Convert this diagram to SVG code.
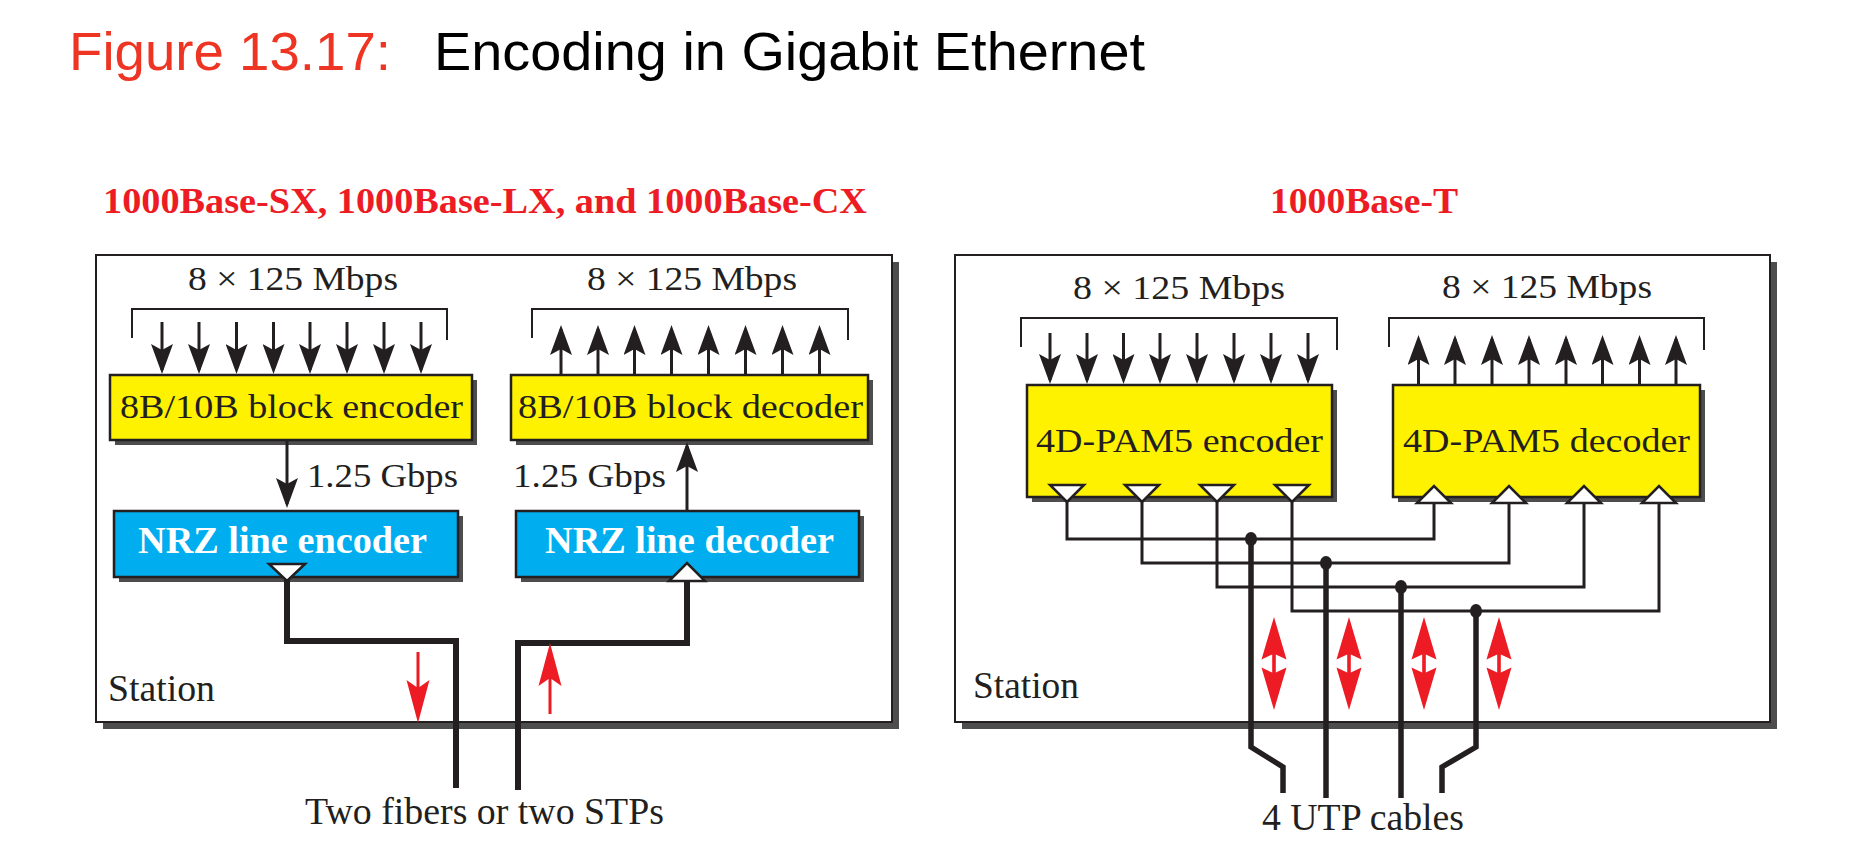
<svg xmlns="http://www.w3.org/2000/svg" width="1862" height="852" viewBox="0 0 1862 852">
<defs>
<style>
.title{font-family:"Liberation Sans",Arial,sans-serif;font-size:54px}
.serif{font-family:"Liberation Serif","Times New Roman",serif;fill:#231F20}
.lbl{font-size:34px}
.big{font-size:37px}
.hd{font-size:35px;font-weight:bold;fill:#ED1C24}
.nrz{font-size:37px;font-weight:bold;fill:#fff}
.frame{fill:#fff;stroke:#231F20;stroke-width:2}
.shadow{fill:#4D4D4D}
.yel{fill:#FFF200;stroke:#231F20;stroke-width:2.5}
.blu{fill:#00AEEF;stroke:#231F20;stroke-width:2.5}
.tri{fill:#fff;stroke:#231F20;stroke-width:2.5;stroke-linejoin:miter}
.br{fill:none;stroke:#231F20;stroke-width:2}
.ar{stroke:#231F20;stroke-width:3;marker-end:url(#ah)}
.wire{fill:none;stroke:#231F20;stroke-width:3}
.cable{fill:none;stroke:#231F20;stroke-width:6;stroke-linejoin:miter}
.red{fill:#ED1C24}
.dot{fill:#231F20}
</style>
<marker id="ah" markerUnits="userSpaceOnUse" markerWidth="30" markerHeight="22" refX="26" refY="11" orient="auto"><path d="M0,0 L30,11 L0,22 L6,11 Z" fill="#231F20"/></marker>
<path id="rdbl" d="M0,-46.5 L12.5,-4 L1.8,-9 L1.8,9 L12.5,4 L0,46.5 L-12.5,4 L-1.8,9 L-1.8,-9 L-12.5,-4 Z"/>
</defs>
<rect width="1862" height="852" fill="#fff"/>

<g id="title">
<text x="69" y="70" class="title" fill="#EE3524" textLength="322" lengthAdjust="spacingAndGlyphs">Figure 13.17:</text>
<text x="434" y="70" class="title" fill="#000" textLength="711" lengthAdjust="spacingAndGlyphs">Encoding in Gigabit Ethernet</text>
</g>

<g id="panel-left">
<text x="103" y="213" class="serif hd" textLength="764" lengthAdjust="spacingAndGlyphs">1000Base-SX, 1000Base-LX, and 1000Base-CX</text>
<rect x="103" y="262" width="796" height="467" class="shadow"/>
<rect x="96" y="255" width="796" height="467" class="frame"/>
<text x="108" y="701" class="serif big" textLength="107" lengthAdjust="spacingAndGlyphs">Station</text>
</g>

<g id="panel-right">
<text x="1270" y="213" class="serif hd" textLength="188" lengthAdjust="spacingAndGlyphs">1000Base-T</text>
<rect x="962" y="262" width="815" height="467" class="shadow"/>
<rect x="955" y="255" width="815" height="467" class="frame"/>
<text x="973" y="698" class="serif big" textLength="106" lengthAdjust="spacingAndGlyphs">Station</text>
</g>

<g id="enc8b10b">
<rect x="115" y="380" width="362" height="65" class="shadow"/>
<rect x="110" y="375" width="362" height="65" class="yel"/>
<text x="120" y="418" class="serif lbl" textLength="343" lengthAdjust="spacingAndGlyphs">8B/10B block encoder</text>
</g>

<g id="dec8b10b">
<rect x="516" y="380" width="357" height="65" class="shadow"/>
<rect x="511" y="375" width="357" height="65" class="yel"/>
<text x="518" y="418" class="serif lbl" textLength="345" lengthAdjust="spacingAndGlyphs">8B/10B block decoder</text>
</g>

<g id="nrzEnc">
<rect x="119" y="516" width="344" height="66" class="shadow"/>
<rect x="114" y="511" width="344" height="66" class="blu"/>
<text x="138" y="553" class="serif nrz" textLength="289" lengthAdjust="spacingAndGlyphs">NRZ line encoder</text>
</g>

<g id="nrzDec">
<rect x="521" y="516" width="343" height="66" class="shadow"/>
<rect x="516" y="511" width="343" height="66" class="blu"/>
<text x="545" y="553" class="serif nrz" textLength="289" lengthAdjust="spacingAndGlyphs">NRZ line decoder</text>
</g>

<g id="pam5Enc">
<rect x="1032" y="390" width="305" height="112" class="shadow"/>
<rect x="1027" y="385" width="305" height="112" class="yel"/>
<text x="1036" y="452" class="serif lbl" textLength="287" lengthAdjust="spacingAndGlyphs">4D-PAM5 encoder</text>
</g>

<g id="pam5Dec">
<rect x="1398" y="390" width="307" height="112" class="shadow"/>
<rect x="1393" y="385" width="307" height="112" class="yel"/>
<text x="1403" y="452" class="serif lbl" textLength="287" lengthAdjust="spacingAndGlyphs">4D-PAM5 decoder</text>
</g>

<g id="connectors">
<path class="br" d="M132,338 V309 H447 V340"/>
<path class="br" d="M532,338 V309 H848 V340"/>
<path class="br" d="M1021,347 V318 H1337 V350"/>
<path class="br" d="M1389,347 V318 H1704 V350"/>
<line class="ar" x1="162" y1="322" x2="162" y2="370"/>
<line class="ar" x1="199" y1="322" x2="199" y2="370"/>
<line class="ar" x1="236.5" y1="322" x2="236.5" y2="370"/>
<line class="ar" x1="273.5" y1="322" x2="273.5" y2="370"/>
<line class="ar" x1="310" y1="322" x2="310" y2="370"/>
<line class="ar" x1="347" y1="322" x2="347" y2="370"/>
<line class="ar" x1="384" y1="322" x2="384" y2="370"/>
<line class="ar" x1="421" y1="322" x2="421" y2="370"/>
<line class="ar" x1="561" y1="375" x2="561" y2="329"/>
<line class="ar" x1="598" y1="375" x2="598" y2="329"/>
<line class="ar" x1="634.5" y1="375" x2="634.5" y2="329"/>
<line class="ar" x1="671.5" y1="375" x2="671.5" y2="329"/>
<line class="ar" x1="708.5" y1="375" x2="708.5" y2="329"/>
<line class="ar" x1="745.5" y1="375" x2="745.5" y2="329"/>
<line class="ar" x1="782.5" y1="375" x2="782.5" y2="329"/>
<line class="ar" x1="819.5" y1="375" x2="819.5" y2="329"/>
<line class="ar" x1="1050" y1="333" x2="1050" y2="380"/>
<line class="ar" x1="1087" y1="333" x2="1087" y2="380"/>
<line class="ar" x1="1123.5" y1="333" x2="1123.5" y2="380"/>
<line class="ar" x1="1160" y1="333" x2="1160" y2="380"/>
<line class="ar" x1="1197" y1="333" x2="1197" y2="380"/>
<line class="ar" x1="1234" y1="333" x2="1234" y2="380"/>
<line class="ar" x1="1271" y1="333" x2="1271" y2="380"/>
<line class="ar" x1="1308" y1="333" x2="1308" y2="380"/>
<line class="ar" x1="1418.5" y1="385" x2="1418.5" y2="339"/>
<line class="ar" x1="1455" y1="385" x2="1455" y2="339"/>
<line class="ar" x1="1492" y1="385" x2="1492" y2="339"/>
<line class="ar" x1="1529" y1="385" x2="1529" y2="339"/>
<line class="ar" x1="1566" y1="385" x2="1566" y2="339"/>
<line class="ar" x1="1602.5" y1="385" x2="1602.5" y2="339"/>
<line class="ar" x1="1639.5" y1="385" x2="1639.5" y2="339"/>
<line class="ar" x1="1676" y1="385" x2="1676" y2="339"/>
<line class="ar" x1="287" y1="440" x2="287" y2="504"/>
<line class="ar" x1="687" y1="511" x2="687" y2="446"/>
<path class="cable" d="M287,578 V641 H456 V788"/>
<path class="cable" d="M687,580 V643 H518 V790"/>
<path class="wire" d="M1067,500 V539 H1434 V503"/>
<path class="wire" d="M1142,500 V563 H1509 V503"/>
<path class="wire" d="M1217,500 V587 H1584 V503"/>
<path class="wire" d="M1292,500 V611 H1659 V503"/>
<path class="cable" d="M1251,539 V747 L1283,767 V793" style="stroke-width:5.5"/>
<path class="cable" d="M1326,563 V798" style="stroke-width:5.5"/>
<path class="cable" d="M1401,587 V798" style="stroke-width:5.5"/>
<path class="cable" d="M1476,611 V747 L1442,767 V793" style="stroke-width:5.5"/>
<ellipse class="dot" cx="1251" cy="539" rx="6" ry="7"/>
<ellipse class="dot" cx="1326" cy="563" rx="6" ry="7"/>
<ellipse class="dot" cx="1401" cy="587" rx="6" ry="7"/>
<ellipse class="dot" cx="1476" cy="611" rx="6" ry="7"/>
<path class="red" d="M416.5,652 H419.5 V687 L429.5,680 L418,723 L406.5,680 L416.5,687 Z"/>
<path class="red" d="M548.5,714 H551.5 V679 L561.5,686 L550,643 L538.5,686 L548.5,679 Z"/>
<use href="#rdbl" class="red" x="1274" y="663.5"/>
<use href="#rdbl" class="red" x="1349" y="663.5"/>
<use href="#rdbl" class="red" x="1424" y="663.5"/>
<use href="#rdbl" class="red" x="1499" y="663.5"/>
</g>

<g id="ports">
<polygon class="tri" points="269,564 305,564 287,581"/>
<polygon class="tri" points="669,581 705,581 687,563"/>
<polygon class="tri" points="1050,485 1084,485 1067,502"/>
<polygon class="tri" points="1125,485 1159,485 1142,502"/>
<polygon class="tri" points="1200,485 1234,485 1217,502"/>
<polygon class="tri" points="1275,485 1309,485 1292,502"/>
<polygon class="tri" points="1417,503 1451,503 1434,486"/>
<polygon class="tri" points="1492,503 1526,503 1509,486"/>
<polygon class="tri" points="1567,503 1601,503 1584,486"/>
<polygon class="tri" points="1642,503 1676,503 1659,486"/>
</g>

<g id="labels">
<text x="188" y="290" class="serif lbl" textLength="210" lengthAdjust="spacingAndGlyphs">8 × 125 Mbps</text>
<text x="587" y="290" class="serif lbl" textLength="210" lengthAdjust="spacingAndGlyphs">8 × 125 Mbps</text>
<text x="1073" y="299" class="serif lbl" textLength="212" lengthAdjust="spacingAndGlyphs">8 × 125 Mbps</text>
<text x="1442" y="298" class="serif lbl" textLength="210" lengthAdjust="spacingAndGlyphs">8 × 125 Mbps</text>
<text x="307" y="487" class="serif lbl" textLength="151" lengthAdjust="spacingAndGlyphs">1.25 Gbps</text>
<text x="513" y="487" class="serif lbl" textLength="153" lengthAdjust="spacingAndGlyphs">1.25 Gbps</text>
<text x="305" y="824" class="serif big" textLength="359" lengthAdjust="spacingAndGlyphs">Two fibers or two STPs</text>
<text x="1262" y="830" class="serif big" textLength="202" lengthAdjust="spacingAndGlyphs">4 UTP cables</text>
</g>
</svg>
